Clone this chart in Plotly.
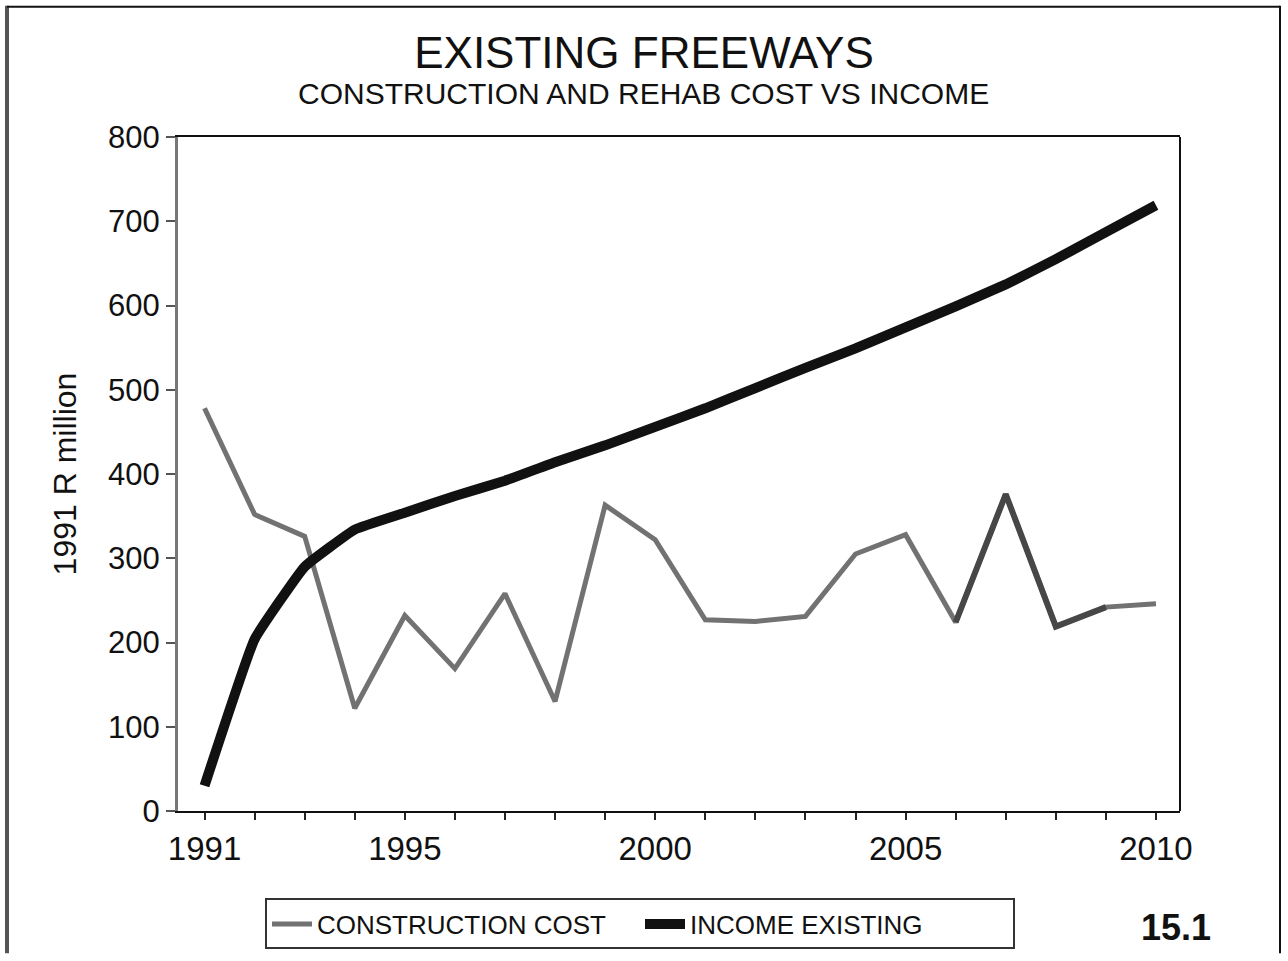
import plotly.graph_objects as go

years = list(range(1991, 2011))
construction_cost = [478, 352, 326, 122, 232, 169, 258, 130, 363, 322,
                     227, 225, 231, 305, 328, 224, 376, 219, 242, 246]
income_existing = [30, 204, 290, 334, 354, 374, 392, 414, 434, 456,
                   478, 502, 526, 549, 574, 599, 625, 655, 687, 719]
y_ticks = [0, 100, 200, 300, 400, 500, 600, 700, 800]
x_tick_labels = {1991: "1991", 1995: "1995", 2000: "2000", 2005: "2005", 2010: "2010"}

FONT = "Liberation Sans, Arial, Helvetica, sans-serif"

# plot-area pixel geometry
L, R, T, B = 178, 1180, 137, 815
W, H = 1288, 961

def px_x(p):
    return (p - L) / (R - L)

def px_y(p):
    return (B - p) / (B - T)

fig = go.Figure()
fig.add_trace(go.Scatter(
    x=years, y=construction_cost, mode="lines", name="CONSTRUCTION COST",
    line=dict(color="#727272", width=5)))
# darker scanned segment of the same series
fig.add_trace(go.Scatter(
    x=years[15:19], y=construction_cost[15:19], mode="lines", showlegend=False,
    line=dict(color="#474747", width=6), hoverinfo="skip"))
fig.add_trace(go.Scatter(
    x=years, y=income_existing, mode="lines", name="INCOME EXISTING",
    line=dict(color="#111111", width=10, shape="spline", smoothing=0.3)))

tickvals = years
ticktext = [x_tick_labels.get(y, "") for y in years]

fig.update_layout(
    width=W, height=H,
    margin=dict(l=L, r=W - R, t=T, b=H - B, pad=0),
    paper_bgcolor="white", plot_bgcolor="white",
    font=dict(family=FONT, color="#111"),
    title=dict(text="EXISTING FREEWAYS", x=644 / W, xref="container", xanchor="center",
               y=1 - 53 / H, yanchor="middle", yref="container",
               font=dict(size=44, family=FONT, color="#111")),
    showlegend=True,
    legend=dict(orientation="h", x=px_x(265), y=px_y(903), xanchor="left", yanchor="top",
                bordercolor="#333", borderwidth=2, bgcolor="white",
                font=dict(size=26, family=FONT, color="#111"),
                itemwidth=40, tracegroupgap=0,
                entrywidth=318, entrywidthmode="pixels"),
    xaxis=dict(range=[1990.47, 2010.48], tickvals=tickvals, ticktext=ticktext,
               ticks="outside", ticklen=7, tickwidth=2, tickcolor="#222",
               showline=True, linecolor="#111", linewidth=2, mirror=True,
               showgrid=False, zeroline=False,
               tickfont=dict(size=33, family=FONT, color="#111")),
    yaxis=dict(range=[0, 800], tickvals=y_ticks,
               ticks="outside", ticklen=9, tickwidth=2, tickcolor="#555",
               showline=True, linecolor="#777", linewidth=3,
               showgrid=False, zeroline=False,
               title=dict(text="1991 R million", standoff=22,
                          font=dict(size=32, family=FONT, color="#111")),
               tickfont=dict(size=31, family=FONT, color="#111")),
)

fig.add_annotation(text="CONSTRUCTION AND REHAB COST VS INCOME", x=px_x(643), y=px_y(93),
                   xref="paper", yref="paper", showarrow=False, xanchor="center",
                   yanchor="middle", font=dict(size=30, family=FONT, color="#111"))
fig.add_annotation(text="<b>15.1</b>", x=px_x(1176), y=px_y(932),
                   xref="paper", yref="paper", showarrow=False, xanchor="center",
                   yanchor="middle", font=dict(size=36, family=FONT, color="#111"))

# right frame line of plot area
fig.add_shape(type="line", xref="paper", yref="paper", x0=1, x1=1, y0=0, y1=1,
              line=dict(color="#111", width=2))
# outer page frame
fig.add_shape(type="line", xref="paper", yref="paper", x0=px_x(7), x1=px_x(7),
              y0=px_y(5), y1=px_y(958), line=dict(color="#555", width=4))
fig.add_shape(type="line", xref="paper", yref="paper", x0=px_x(7), x1=px_x(1280),
              y0=px_y(6), y1=px_y(6), line=dict(color="#111", width=2))
fig.add_shape(type="line", xref="paper", yref="paper", x0=px_x(1280), x1=px_x(1280),
              y0=px_y(5), y1=px_y(958), line=dict(color="#111", width=2))

fig.write_html("out.html")
